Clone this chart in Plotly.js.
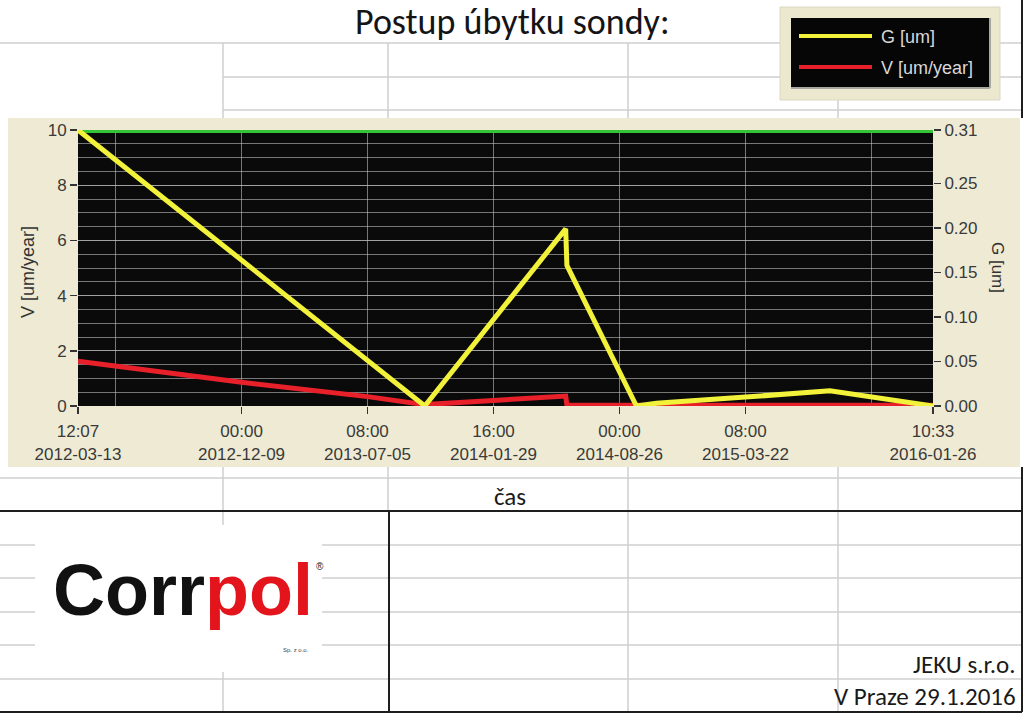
<!DOCTYPE html>
<html>
<head>
<meta charset="utf-8">
<script src="https://cdn.plot.ly/plotly-3.0.1.min.js"></script>
<style>html,body{margin:0;padding:0;background:#fff;}#chart{width:1024px;height:717px;}</style>
</head>
<body>
<div id="chart"></div>
<script>
// ---- data ----
const chartTitle = 'Postup úbytku sondy:';
const xTitle = 'čas';
const vTitle = 'V [um/year]';
const gTitle = 'G [um]';
const rangeStart = '2012-03-13 12:07';
const rangeEnd = '2016-01-26 10:33';

const gDates = ['2012-03-13 12:07', '2013-10-08', '2014-05-29', '2014-05-31', '2014-09-23', '2014-10-26', '2015-03-22 08:00', '2015-08-09', '2016-01-26 10:33'];
const gValues = [0.31, 0.0, 0.199, 0.158, 0.0, 0.003, 0.010, 0.017, 0.0];

const vDates = ['2012-03-13 12:07', '2012-12-09', '2013-07-05 08:00', '2013-10-08', '2014-05-29', '2014-05-31', '2016-01-26 10:33'];
const vValues = [1.62, 0.86, 0.34, 0.05, 0.36, 0.03, 0.03];

const topLineDates = ['2012-03-13 12:07', '2016-01-26 10:33'];
const topLineValues = [10, 10];

const xTickVals = ['2012-03-13 12:07', '2012-12-09 00:00', '2013-07-05 08:00', '2014-01-29 16:00', '2014-08-26 00:00', '2015-03-22 08:00', '2016-01-26 10:33'];
const xTickText = ['12:07<br>2012-03-13', '00:00<br>2012-12-09', '08:00<br>2013-07-05', '16:00<br>2014-01-29', '00:00<br>2014-08-26', '08:00<br>2015-03-22', '10:33<br>2016-01-26'];
const xExtraGrid = ['2012-05-14 16:00', '2015-10-16 16:00'];

const vTickVals = [0, 2, 4, 6, 8, 10];
const gTickVals = [0, 0.05, 0.10, 0.15, 0.20, 0.25, 0.31];
const gTickText = ['0.00', '0.05', '0.10', '0.15', '0.20', '0.25', '0.31'];

const footerCompany = 'JEKU s.r.o.';
const footerPlace = 'V Praze 29.1.2016';
const logoLeft = 'Corr';
const logoRight = 'pol';
const logoSub = 'Sp. z o.o.';

// ---- page geometry helpers ----
const W = 1024, H = 717;
const px = x => x / W;
const py = y => 1 - y / H;

const cellGray = '#cfcfcf';
const shapes = [];
function rect(x0, y0, x1, y1, fill, line, lw) {
  shapes.push({type: 'rect', xref: 'paper', yref: 'paper', layer: 'below',
    x0: px(x0), x1: px(x1), y0: py(y1), y1: py(y0),
    fillcolor: fill, line: {color: line || 'rgba(0,0,0,0)', width: lw || 0}});
}
function seg(x0, y0, x1, y1, color, w, layer) {
  shapes.push({type: 'line', xref: 'paper', yref: 'paper', layer: layer || 'below',
    x0: px(x0), x1: px(x1), y0: py(y0), y1: py(y1), line: {color: color, width: w}});
}

// spreadsheet cell grid
seg(0, 43, 1022, 43, cellGray, 1.5);
seg(223, 77, 1022, 77, cellGray, 1.5);
seg(223, 110, 1022, 110, cellGray, 1.5);
[223, 388, 628, 838].forEach(x => seg(x, 43, x, 118, cellGray, 1.5));
seg(0, 478, 1022, 478, cellGray, 1.5);
[545, 578, 612, 645, 679].forEach(y => seg(0, y, 1022, y, cellGray, 1.5));
[223, 388, 628, 838].forEach(x => seg(x, 467, x, 511, cellGray, 1.5));
[223, 628, 838].forEach(x => seg(x, 511, x, 712, cellGray, 1.5));
// logo cell background
rect(35, 525, 322, 672, '#ffffff');
// thick borders
seg(0, 511, 1022, 511, '#1e1e1e', 2);
seg(0, 712, 1022, 712, '#1e1e1e', 2);
seg(389, 511, 389, 712, '#1e1e1e', 2);
seg(1022, 0, 1022, 118, '#1e1e1e', 2);
seg(1022, 467, 1022, 712, '#1e1e1e', 2);

// chart panel and plot area
rect(8, 118, 1020, 467, '#efead3');
rect(78, 130, 933, 406, '#0a0a0a');

// legend box
rect(780, 7, 1000, 100, '#ece7cf', '#dcd7bf', 1);
rect(791, 18, 990, 88, '#060606');
seg(791, 88, 990, 88, '#a8a8a0', 2);
seg(990, 18, 990, 88, '#a8a8a0', 2);
seg(799, 36, 872, 36, '#f2f23a', 4);
seg(799, 67, 872, 67, '#e8202a', 4);

const ann = [];
function text(t, x, y, opts) {
  ann.push(Object.assign({text: t, xref: 'paper', yref: 'paper', x: px(x), y: py(y),
    showarrow: false, xanchor: 'center', yanchor: 'middle',
    font: {family: 'Lato, "Open Sans", sans-serif', size: 20, color: '#1a1a1a'}}, opts || {}));
}
const sheetFont = 'Carlito, Lato, "Open Sans", sans-serif';
const arial = '"Liberation Sans", Arial, sans-serif';
text(chartTitle, 512, 22, {font: {family: sheetFont, size: 36, color: '#141414'}});
text(xTitle, 510, 496, {font: {family: sheetFont, size: 25, color: '#1a1a1a'}});
text(footerCompany, 1018, 664, {xanchor: 'right', font: {family: sheetFont, size: 25, color: '#1a1a1a'}});
text(footerPlace, 1018, 696, {xanchor: 'right', font: {family: sheetFont, size: 25, color: '#1a1a1a'}});
text(vTitle, 28, 272, {textangle: -90, font: {family: arial, size: 18, color: '#333'}});
text(gTitle, 998, 267, {textangle: 90, font: {family: arial, size: 17, color: '#333'}});
text(gTitle, 879, 37, {xanchor: 'left', font: {family: arial, size: 18, color: '#d8d8d8'}});
text(vTitle, 879, 68, {xanchor: 'left', font: {family: arial, size: 18, color: '#d8d8d8'}});
// logo (text)
text('<b><span style="color:#111">' + logoLeft + '</span><span style="color:#e3141b">' + logoRight + '</span></b>', 183, 590,
  {font: {family: arial, size: 72, color: '#111'}});
text('®', 320, 566, {font: {family: arial, size: 10, color: '#222'}});
text(logoSub, 296, 650, {font: {family: arial, size: 6, color: '#444'}});

const tickFont = {family: arial, size: 17, color: '#3a3a3a'};
const gridCol = 'rgba(190,190,190,0.6)';

const traces = [
  {x: topLineDates, y: topLineValues, type: 'scatter', mode: 'lines', yaxis: 'y', showlegend: false,
   line: {color: '#35c437', width: 6}, hoverinfo: 'skip', cliponaxis: false},
  {x: vDates, y: vValues, name: vTitle, type: 'scatter', mode: 'lines', yaxis: 'y',
   line: {color: '#e8202a', width: 5}, cliponaxis: true},
  {x: gDates, y: gValues, name: gTitle, type: 'scatter', mode: 'lines', yaxis: 'y2',
   line: {color: '#f2f23a', width: 5}, cliponaxis: true}
];

const layout = {
  width: W, height: H,
  margin: {l: 0, r: 0, t: 0, b: 0, pad: 0},
  paper_bgcolor: '#ffffff',
  plot_bgcolor: 'rgba(0,0,0,0)',
  showlegend: false,
  xaxis: {
    type: 'date', domain: [px(78), px(933)], range: [rangeStart, rangeEnd],
    tickmode: 'array', tickvals: xTickVals, ticktext: xTickText,
    ticks: 'outside', ticklen: 7, tickcolor: '#333', tickwidth: 1.5,
    tickfont: tickFont, ticklabelstandoff: 3,
    showgrid: true, gridcolor: gridCol, gridwidth: 1,
    minor: {tickmode: 'array', tickvals: xExtraGrid, showgrid: true, gridcolor: gridCol, gridwidth: 1, ticks: ''},
    showline: false, zeroline: false, automargin: false, fixedrange: true
  },
  yaxis: {
    domain: [py(406), py(130)], range: [0, 10],
    tickmode: 'array', tickvals: vTickVals,
    ticks: 'outside', ticklen: 7, tickcolor: '#333', tickwidth: 1.5, tickfont: tickFont,
    showgrid: true, gridcolor: gridCol, gridwidth: 1,
    minor: {dtick: 0.5, showgrid: true, gridcolor: gridCol, gridwidth: 1, ticks: ''},
    showline: false, zeroline: false, automargin: false, fixedrange: true
  },
  yaxis2: {
    overlaying: 'y', side: 'right', anchor: 'x', range: [0, 0.31],
    tickmode: 'array', tickvals: gTickVals, ticktext: gTickText,
    ticks: 'outside', ticklen: 7, tickcolor: '#333', tickwidth: 1.5, tickfont: tickFont,
    showgrid: false, showline: false, zeroline: false, automargin: false, fixedrange: true
  },
  shapes: shapes,
  annotations: ann
};

Plotly.newPlot('chart', traces, layout, {displayModeBar: false, staticPlot: true});
</script>
</body>
</html>
